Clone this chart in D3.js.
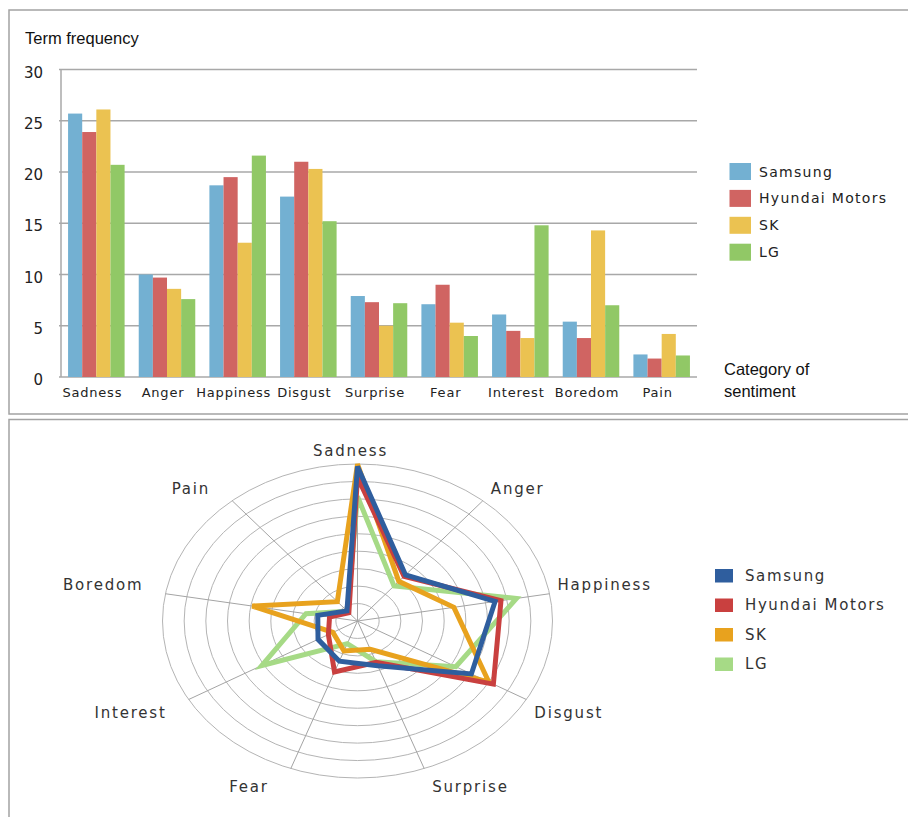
<!DOCTYPE html>
<meta charset="utf-8">
<style>
body { margin: 0; background: #fff; }
text { font-family: "DejaVu Sans", sans-serif; fill: #222; }
.frame { stroke: #a3a3a3; stroke-width: 1.5; fill: none; }
.grid line { stroke: #a8a8a8; stroke-width: 1.5; }
.ring { fill: none; stroke: #b4b4b4; stroke-width: 1; }
.spoke { stroke: #a4a4a4; stroke-width: 1; }
.radar-line { fill: none; stroke-width: 5; stroke-linejoin: miter; }
.title { font-family: "Liberation Sans", Arial, sans-serif; font-size: 16.5px; fill: #111; }
</style>
<body>
<script src="https://d3js.org/d3.v7.min.js"></script>
<script>
// categories and series
var categories = ["Sadness", "Anger", "Happiness", "Disgust", "Surprise", "Fear", "Interest", "Boredom", "Pain"];
var series = ["Samsung", "Hyundai Motors", "SK", "LG"];

// term frequency per category
var samsung = [25.7, 10.0, 18.7, 17.6, 7.9, 7.1, 6.1, 5.4, 2.2];
var hyundai = [23.9, 9.7, 19.5, 21.0, 7.3, 9.0, 4.5, 3.8, 1.8];
var sk      = [26.1, 8.6, 13.1, 20.3, 5.0, 5.3, 3.8, 14.3, 4.2];
var lg      = [20.7, 7.6, 21.6, 15.2, 7.2, 4.0, 14.8, 7.0, 2.1];

var yTicks = [0, 5, 10, 15, 20, 25, 30];

var values = [samsung, hyundai, sk, lg];
var barColors = ["#73b0d2", "#d06462", "#ebc251", "#91c866"];
var radarColors = ["#2f5e9e", "#c9403f", "#e8a21e", "#a6da86"];

var svg = d3.select("body").append("svg")
    .attr("width", 908)
    .attr("height", 817);

// panel frames
svg.append("path").attr("class", "frame")
    .attr("d", "M908,10H9V414H908");
svg.append("path").attr("class", "frame")
    .attr("d", "M908,419.5H9V817");

// ---------- bar chart ----------
var x0 = d3.scaleBand().domain(categories).range([61, 697]).paddingInner(0.2).paddingOuter(0.1);
var x1 = d3.scaleBand().domain(series).range([0, x0.bandwidth()]);
var y = d3.scaleLinear().domain([0, 30]).range([377, 69.5]);

var grid = svg.append("g").attr("class", "grid");
grid.selectAll("line")
  .data(yTicks)
  .enter().append("line")
    .attr("x1", 59).attr("x2", 697)
    .attr("y1", function(d) { return y(d); })
    .attr("y2", function(d) { return y(d); });
grid.append("line")
    .attr("x1", 61).attr("x2", 61)
    .attr("y1", y(30)).attr("y2", y(0));

svg.selectAll(".ytick")
  .data(yTicks)
  .enter().append("text")
    .attr("class", "ytick")
    .attr("x", 43)
    .attr("y", function(d) { return y(d) + 3; })
    .attr("dominant-baseline", "central")
    .attr("text-anchor", "end")
    .style("font-size", "15px")
    .text(function(d) { return d; });

var groups = svg.selectAll(".group")
  .data(categories)
  .enter().append("g")
    .attr("class", "group")
    .attr("transform", function(d) { return "translate(" + x0(d) + ",0)"; });

groups.selectAll("rect")
  .data(function(d, i) { return series.map(function(s, j) { return {s: s, j: j, v: values[j][i]}; }); })
  .enter().append("rect")
    .attr("x", function(d) { return x1(d.s); })
    .attr("width", x1.bandwidth())
    .attr("y", function(d) { return y(d.v); })
    .attr("height", function(d) { return y(0) - y(d.v); })
    .style("fill", function(d) { return barColors[d.j]; });

svg.selectAll(".xlabel")
  .data(categories)
  .enter().append("text")
    .attr("class", "xlabel")
    .attr("x", function(d) { return x0(d) + x0.bandwidth() / 2 - 4; })
    .attr("y", 397)
    .attr("text-anchor", "middle")
    .style("font-size", "13px")
    .style("letter-spacing", "0.8px")
    .text(function(d) { return d; });

svg.append("text").attr("class", "title")
    .attr("x", 25).attr("y", 44)
    .text("Term frequency");
svg.append("text").attr("class", "title")
    .attr("x", 724).attr("y", 375)
    .text("Category of");
svg.append("text").attr("class", "title")
    .attr("x", 724).attr("y", 397)
    .text("sentiment");

var legend1 = svg.selectAll(".legend1")
  .data(series)
  .enter().append("g")
    .attr("class", "legend1")
    .attr("transform", function(d, i) { return "translate(729.5," + (163 + i * 26.9) + ")"; });
legend1.append("rect")
    .attr("width", 21.5).attr("height", 17)
    .style("fill", function(d, i) { return barColors[i]; });
legend1.append("text")
    .attr("x", 29.5).attr("y", 8.5)
    .attr("dominant-baseline", "central")
    .style("font-size", "14px")
    .style("letter-spacing", "1.3px")
    .text(function(d) { return d; });

// ---------- radar chart ----------
var cx = 357.5, cy = 621, rx = 195, ry = 157, rings = 9;
var r = d3.scaleLinear().domain([0, d3.max(values, function(v) { return d3.max(v); })]).range([0, 1]);
var angle = d3.scalePoint().domain(categories).range([0, 2 * Math.PI * (categories.length - 1) / categories.length]);

function px(a, f) { return cx + f * rx * Math.sin(a); }
function py(a, f) { return cy - f * ry * Math.cos(a); }

var radar = svg.append("g");
radar.selectAll(".ring")
  .data(d3.range(1, rings + 1))
  .enter().append("ellipse")
    .attr("class", "ring")
    .attr("cx", cx).attr("cy", cy)
    .attr("rx", function(d) { return rx * d / rings; })
    .attr("ry", function(d) { return ry * d / rings; });

radar.selectAll(".spoke")
  .data(categories)
  .enter().append("line")
    .attr("class", "spoke")
    .attr("x1", cx).attr("y1", cy)
    .attr("x2", function(d) { return px(angle(d), 1); })
    .attr("y2", function(d) { return py(angle(d), 1); });

radar.selectAll(".rlabel")
  .data(categories)
  .enter().append("text")
    .attr("class", "rlabel")
    .attr("x", function(d) {
      var a = angle(d), s = Math.sin(a);
      var off = Math.abs(s) < 0.1 ? 0 : (s > 0 ? 15 : -15);
      return px(a, 1) + off - 7;
    })
    .attr("y", function(d) {
      var c = Math.cos(angle(d));
      var off = c > 0 ? -7.5 - 6 * c : 7.5 - 12 * c;
      return py(angle(d), 1) + off;
    })
    .attr("dominant-baseline", "central")
    .attr("text-anchor", function(d) {
      var s = Math.sin(angle(d));
      return Math.abs(s) < 0.1 ? "middle" : (s > 0 ? "start" : "end");
    })
    .style("font-size", "15px")
    .style("letter-spacing", "1.8px")
    .style("fill", "#333")
    .text(function(d) { return d; });

var radarLine = d3.line()
    .x(function(d, i) { return px(angle(categories[i]), r(d)); })
    .y(function(d, i) { return py(angle(categories[i]), r(d)); })
    .curve(d3.curveLinearClosed);

// first series drawn last so it sits on top
radar.selectAll(".radar-line")
  .data(d3.range(series.length).reverse())
  .enter().append("path")
    .attr("class", "radar-line")
    .attr("d", function(j) { return radarLine(values[j]); })
    .style("stroke", function(j) { return radarColors[j]; });

var legend2 = svg.selectAll(".legend2")
  .data(series)
  .enter().append("g")
    .attr("class", "legend2")
    .attr("transform", function(d, i) { return "translate(715," + (569 + i * 29.5) + ")"; });
legend2.append("rect")
    .attr("width", 18).attr("height", 13.5)
    .style("fill", function(d, i) { return radarColors[i]; });
legend2.append("text")
    .attr("x", 30).attr("y", 6.5)
    .attr("dominant-baseline", "central")
    .style("font-size", "15px")
    .style("letter-spacing", "1.6px")
    .style("fill", "#333")
    .text(function(d) { return d; });
</script>
</body>
